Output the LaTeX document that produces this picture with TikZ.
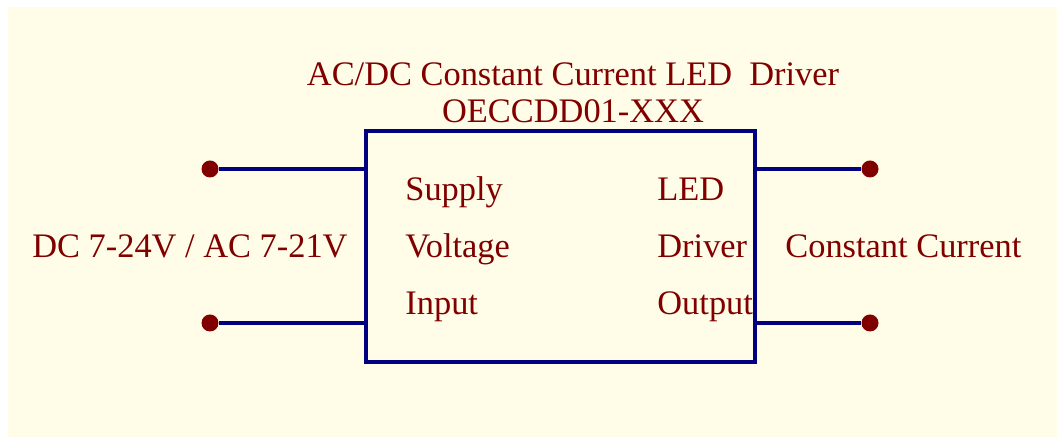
\documentclass[tikz,border=0pt]{standalone}
\usepackage{fontspec}
\setmainfont{Liberation Serif}
\usetikzlibrary{positioning,backgrounds}
\definecolor{sheetbg}{RGB}{255,253,232}
\definecolor{wireblue}{RGB}{0,0,128}
\definecolor{pinred}{RGB}{128,0,0}

\begin{document}
\begin{tikzpicture}[x=0.5pt, y=-0.5pt,
  part/.style={draw=wireblue, line width=2.3pt, minimum width=194.5pt, minimum height=115.5pt},
  pin/.style={circle, fill=pinred, inner sep=0pt, minimum size=8.5pt},
  wire/.style={draw=wireblue, line width=2pt},
  txt/.style={text=pinred, font=\fontsize{17.2}{18}\selectfont, inner sep=0pt}]
\useasboundingbox (0,0) rectangle (1057,437);
\fill[sheetbg] (8,7) rectangle (1057,437);
\node[part] (drv) at (560.5,246.5) {};
\node[txt, anchor=base] (title) at (573,86) {AC/DC Constant Current LED\ \ Driver};
\node[txt, anchor=base] (partno) at (573,123) {OECCDD01-XXX};
\node[pin] (inA) at (210,169) {};
\node[pin] (inB) at (210,323) {};
\node[pin] (outA) at (870,169) {};
\node[pin] (outB) at (870,323) {};
\node[txt, anchor=base west] (sup) at (405,201) {Supply};
\node[txt, anchor=base west] (vol) at (405,258) {Voltage};
\node[txt, anchor=base west] (inp) at (405,315) {Input};
\node[txt, anchor=base west] (led) at (657,201) {LED};
\node[txt, anchor=base west] (dri) at (657,258) {Driver};
\node[txt, anchor=base west] (outp) at (657,315) {Output};
\node[txt, anchor=base east] (vin) at (348,258) {DC 7-24V / AC 7-21V};
\node[txt, anchor=base west] (cc) at (785,258) {Constant Current};
\draw[wire] (inA) -- (inA -| drv.west);
\draw[wire] (inB) -- (inB -| drv.west);
\draw[wire] (outA) -- (outA -| drv.east);
\draw[wire] (outB) -- (outB -| drv.east);
\end{tikzpicture}
\end{document}
